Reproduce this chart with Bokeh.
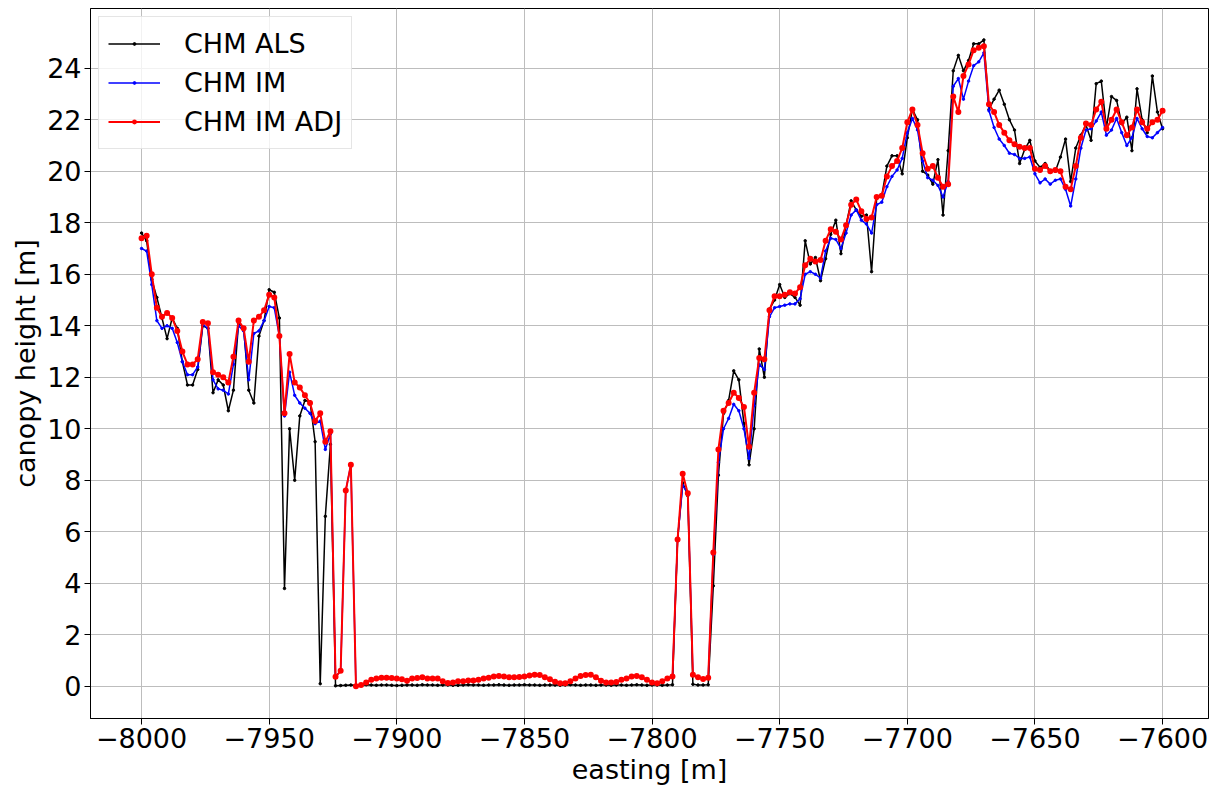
from bokeh.plotting import figure
from bokeh.models import ColumnDataSource, FixedTicker, Legend, LegendItem
from bokeh.embed import file_html
from bokeh.resources import INLINE

# Profile sample positions (easting, m), every 2 m
easting = list(range(-8000, -7599, 2))

# Canopy height from airborne laser scanning
chm_als = [
    17.6, 17.3, 15.8, 15.1, 14.3, 13.5, 14.3, 13.9, 12.6, 11.7,
    11.7, 12.3, 14.0, 13.9, 11.4, 11.9, 11.7, 10.7, 11.5, 14.1,
    13.9, 11.5, 11.0, 13.6, 14.2, 15.4, 15.3, 14.3, 3.8, 10.0,
    8.0, 10.5, 11.1, 11.05, 9.5, 0.1, 6.6, 9.4, 0.02, 0.03,
    0.04, 0.05, 0.04, 0.05, 0.06, 0.05, 0.04, 0.05, 0.05, 0.04,
    0.03, 0.04, 0.05, 0.05, 0.04, 0.06, 0.05, 0.05, 0.04, 0.05,
    0.05, 0.04, 0.04, 0.05, 0.06, 0.05, 0.05, 0.04, 0.05, 0.05,
    0.06, 0.05, 0.04, 0.05, 0.05, 0.06, 0.05, 0.05, 0.04, 0.05,
    0.05, 0.05, 0.04, 0.05, 0.06, 0.05, 0.04, 0.05, 0.05, 0.04,
    0.05, 0.05, 0.04, 0.05, 0.05, 0.04, 0.05, 0.06, 0.05, 0.04,
    0.05, 0.05, 0.04, 0.05, 0.06, 5.7, 7.9, 7.4, 0.08, 0.05,
    0.05, 0.06, 3.9, 8.2, 10.6, 11.1, 12.25, 11.9, 10.2, 8.6,
    10.0, 13.1, 12.0, 14.65, 15.0, 15.6, 15.1, 15.25, 15.1, 14.8,
    17.3, 16.4, 16.65, 15.75, 16.6, 17.55, 18.1, 16.8, 17.9, 18.85,
    18.5, 18.25, 18.3, 16.1, 18.95, 19.05, 20.2, 20.6, 20.6, 19.9,
    21.3, 22.4, 22.0, 20.0, 19.85, 19.5, 20.45, 18.3, 20.8, 23.9,
    24.5, 23.9, 24.3, 24.95, 24.95, 25.1, 22.4, 22.8, 23.15, 22.6,
    22.0, 21.6, 20.3, 20.85, 21.2, 20.4, 20.15, 20.3, 20.0, 20.0,
    20.55, 21.25, 19.6, 20.9, 21.4, 21.8, 21.2, 23.4, 23.5, 21.7,
    22.9, 22.75, 21.85, 22.1, 20.8, 23.2, 22.0, 21.5, 23.7, 22.3,
    21.65,
]

# Canopy height from image matching
chm_im = [
    17.0, 16.9, 15.6, 14.2, 13.9, 14.0, 13.9, 13.35, 12.6, 12.1,
    12.1, 12.4, 14.05, 13.9, 11.9, 11.55, 11.5, 11.35, 12.5, 14.0,
    13.8, 11.9, 13.7, 13.8, 14.2, 14.75, 14.7, 13.6, 10.5, 12.2,
    11.3, 11.0, 10.8, 10.6, 10.2, 10.3, 9.2, 9.8, 0.37, 0.6,
    7.6, 8.6, 0.0, 0.05, 0.15, 0.25, 0.3, 0.33, 0.33, 0.32,
    0.3, 0.27, 0.22, 0.3, 0.32, 0.35, 0.3, 0.3, 0.3, 0.2,
    0.13, 0.15, 0.2, 0.2, 0.23, 0.23, 0.25, 0.3, 0.33, 0.38,
    0.4, 0.38, 0.35, 0.35, 0.36, 0.38, 0.42, 0.45, 0.44, 0.35,
    0.27, 0.18, 0.12, 0.12, 0.2, 0.3, 0.4, 0.44, 0.45, 0.35,
    0.22, 0.15, 0.15, 0.17, 0.25, 0.3, 0.38, 0.4, 0.35, 0.25,
    0.15, 0.12, 0.2, 0.3, 0.38, 5.7, 7.8, 7.5, 0.45, 0.35,
    0.28, 0.33, 5.1, 8.7, 10.0, 10.4, 10.95, 10.7, 10.0, 8.85,
    10.9, 12.5, 12.3, 14.35, 14.7, 14.75, 14.8, 14.85, 14.85, 15.05,
    16.0, 16.1, 16.0, 15.85, 16.9, 17.4, 17.35, 17.0, 17.6, 18.3,
    18.5, 18.1, 17.95, 17.6, 18.7, 18.8, 19.4, 19.8, 20.05, 20.5,
    21.5, 22.05, 21.6, 20.4, 19.75, 19.65, 19.45, 19.0, 19.6, 23.3,
    23.6, 22.8, 23.5, 24.1, 24.25, 24.6, 22.35, 21.7, 21.25, 21.0,
    20.7, 20.65, 20.5, 20.5, 20.55, 19.9, 19.55, 19.7, 19.5, 19.65,
    19.7, 19.3, 18.65, 19.7, 20.9, 21.6, 21.65, 21.95, 22.3, 21.4,
    21.6, 22.05, 21.5, 21.0, 21.3, 22.05, 21.65, 21.35, 21.3, 21.5,
    21.7,
]

# Canopy height from image matching, adjusted
chm_im_adj = [
    17.4, 17.5, 16.0, 14.7, 14.35, 14.5, 14.3, 13.8, 13.0, 12.5,
    12.5, 12.7, 14.15, 14.1, 12.2, 12.1, 12.0, 11.8, 12.8, 14.2,
    13.9, 12.6, 14.2, 14.35, 14.6, 15.2, 15.1, 13.6, 10.6, 12.9,
    11.8, 11.6, 11.3, 11.0, 10.3, 10.6, 9.5, 9.9, 0.37, 0.6,
    7.6, 8.6, 0.0, 0.05, 0.15, 0.25, 0.3, 0.33, 0.33, 0.32,
    0.3, 0.27, 0.22, 0.3, 0.32, 0.35, 0.3, 0.3, 0.3, 0.2,
    0.13, 0.15, 0.2, 0.2, 0.23, 0.23, 0.25, 0.3, 0.33, 0.38,
    0.4, 0.38, 0.35, 0.35, 0.36, 0.38, 0.42, 0.45, 0.44, 0.35,
    0.27, 0.18, 0.12, 0.12, 0.2, 0.3, 0.4, 0.44, 0.45, 0.35,
    0.22, 0.15, 0.15, 0.17, 0.25, 0.3, 0.38, 0.4, 0.35, 0.25,
    0.15, 0.12, 0.2, 0.3, 0.38, 5.7, 8.25, 7.5, 0.45, 0.35,
    0.28, 0.33, 5.2, 9.2, 10.7, 11.0, 11.4, 11.2, 10.85, 9.3,
    11.4, 12.75, 12.7, 14.6, 15.15, 15.15, 15.2, 15.3, 15.25, 15.5,
    16.35, 16.6, 16.5, 16.55, 17.3, 17.75, 17.65, 17.35, 17.9, 18.7,
    18.9, 18.45, 18.15, 18.2, 19.0, 19.05, 19.8, 20.2, 20.4, 20.9,
    21.9, 22.4, 21.8, 20.7, 20.1, 20.2, 19.75, 19.4, 19.5, 22.9,
    22.3, 23.7, 24.15, 24.7, 24.8, 24.85, 22.6, 22.3, 21.8, 21.5,
    21.2, 21.05, 20.95, 20.9, 20.9, 20.1, 20.05, 20.2, 20.0, 20.05,
    20.0, 19.4, 19.3, 20.2, 21.3, 21.85, 21.8, 22.4, 22.7, 21.65,
    22.0, 22.4, 21.9, 21.4, 21.7, 22.4, 21.9, 21.65, 21.9, 22.0,
    22.35,
]

x_ticks = [-8000, -7950, -7900, -7850, -7800, -7750, -7700, -7650, -7600]
y_ticks = [0, 2, 4, 6, 8, 10, 12, 14, 16, 18, 20, 22, 24]

assert len(chm_als) == len(easting)
assert len(chm_im) == len(easting)
assert len(chm_im_adj) == len(easting)

src = ColumnDataSource(dict(x=easting, als=chm_als, im=chm_im, adj=chm_im_adj))

FONT = "DejaVu Sans"

p = figure(
    width=1217, height=787,
    output_backend="svg", toolbar_location=None,
    x_range=(-8020, -7582), y_range=(-1.25, 26.32),
    min_border_left=90, min_border_right=9,
    min_border_top=8, min_border_bottom=69,
    background_fill_color="white", border_fill_color="white",
)

p.outline_line_color = "black"
p.outline_line_width = 1

for ax in (p.xaxis[0], p.yaxis[0]):
    ax.major_label_text_font = FONT
    ax.major_label_text_font_size = "27px"
    ax.major_label_text_color = "black"
    ax.axis_label_text_font = FONT
    ax.axis_label_text_font_size = "27px"
    ax.axis_label_text_font_style = "normal"
    ax.axis_label_text_color = "black"
    ax.minor_tick_line_color = None
    ax.major_tick_in = 0
    ax.major_tick_out = 6
    ax.major_tick_line_color = "black"
    ax.axis_line_color = "black"
    ax.major_label_standoff = 3
    ax.axis_label_standoff = 3

p.xaxis.axis_label = "easting [m]"
p.yaxis.axis_label = "canopy height [m]"
p.xaxis.ticker = FixedTicker(ticks=x_ticks)
p.yaxis.ticker = FixedTicker(ticks=y_ticks)
p.xaxis.major_label_overrides = {t: "\u2212" + str(abs(t)) for t in x_ticks}

p.grid.grid_line_color = "#bdbdbd"
p.grid.grid_line_width = 1

# small dots for ALS / IM, bigger dots for the adjusted series
l_als = p.line("x", "als", source=src, line_color="black", line_width=1.5)
s_als = p.scatter("x", "als", source=src, size=2.5, line_width=1, color="black")
l_im = p.line("x", "im", source=src, line_color="blue", line_width=1.5)
s_im = p.scatter("x", "im", source=src, size=2.5, line_width=1, color="blue")
l_adj = p.line("x", "adj", source=src, line_color="red", line_width=2)
s_adj = p.scatter("x", "adj", source=src, size=4, line_width=2, color="red")

legend = Legend(
    items=[
        LegendItem(label="CHM ALS", renderers=[l_als, s_als]),
        LegendItem(label="CHM IM", renderers=[l_im, s_im]),
        LegendItem(label="CHM IM ADJ", renderers=[l_adj, s_adj]),
    ],
    location="top_left",
    margin=8,
    padding=9,
    spacing=4,
    label_height=35,
    glyph_width=52,
    glyph_height=7,
    label_standoff=24,
    label_text_font=FONT,
    label_text_font_size="27px",
    label_text_color="black",
    border_line_color="#cccccc",
    border_line_width=1,
    background_fill_alpha=0.8,
)
p.add_layout(legend)

open("out.html", "w").write(file_html(p, INLINE))
